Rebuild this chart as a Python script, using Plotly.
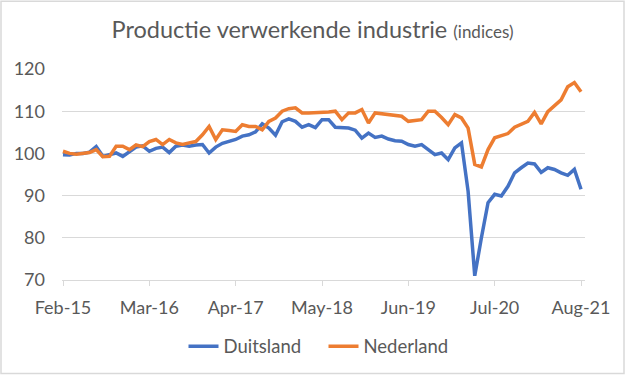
import plotly.graph_objects as go

# ---- data (monthly, Feb-15 .. Aug-21) ----
tick_labels = ["Feb-15", "Mar-16", "Apr-17", "May-18", "Jun-19", "Jul-20", "Aug-21"]
tick_index = [0, 13, 26, 39, 52, 65, 78]

duitsland = [
    99.7, 99.6, 100.0, 100.0, 100.3, 101.6, 99.3, 99.8, 100.1, 99.3,
    100.5, 101.5, 101.8, 100.5, 101.2, 101.5, 100.2, 101.7, 102.0, 101.7,
    102.0, 102.1, 100.1, 101.5, 102.4, 102.8, 103.3, 104.1, 104.4, 105.1,
    107.0, 106.0, 104.3, 107.5, 108.2, 107.6, 106.2, 106.8, 106.1, 108.0,
    108.0, 106.2, 106.0, 106.0, 105.5, 103.6, 104.8, 103.8, 104.1, 103.4,
    103.0, 102.9, 102.1, 101.7, 102.1, 100.9, 99.7, 100.1, 98.5, 101.3,
    102.5, 91.0, 71.0, 80.0, 88.3, 90.3, 89.9, 92.2, 95.4, 96.6,
    97.7, 97.5, 95.5, 96.6, 96.2, 95.4, 94.8, 96.2, 91.5,
]

nederland = [
    100.5, 100.0, 99.8, 100.0, 100.2, 100.9, 99.2, 99.3, 101.7, 101.7,
    100.9, 102.0, 101.6, 102.8, 103.3, 102.1, 103.3, 102.5, 102.1, 102.5,
    102.8, 104.4, 106.4, 103.3, 105.6, 105.4, 105.2, 106.8, 106.4, 106.4,
    105.6, 107.6, 108.4, 110.0, 110.6, 110.8, 109.6, 109.6, 109.6, 109.8,
    109.8, 110.0, 108.0, 109.6, 109.6, 110.4, 107.2, 109.6, 109.4, 109.2,
    109.2, 108.8, 107.6, 107.8, 108.0, 110.0, 110.0, 108.5, 106.8, 109.2,
    108.4, 106.0, 97.4, 96.8, 100.9, 103.7, 104.2, 104.7, 106.2, 106.8,
    107.6, 109.7, 107.0, 109.9, 111.3, 112.7, 115.8, 116.8, 114.6,
]

y_ticks = [70, 80, 90, 100, 110, 120]

assert len(duitsland) == 79 and len(nederland) == 79
months = list(range(len(duitsland)))

FONT = "Lato"
TXT = "#595959"
GRID = "#D9D9D9"

fig = go.Figure()
fig.add_trace(go.Scatter(x=months, y=duitsland, mode="lines", name="Duitsland",
                         line=dict(color="#4472C4", width=3.5)))
fig.add_trace(go.Scatter(x=months, y=nederland, mode="lines", name="Nederland",
                         line=dict(color="#ED7D31", width=3.5)))

W, H = 625, 376
ml, mr, mt, mb = 62, 40, 69, 95
pw, ph = W - ml - mr, H - mt - mb

fig.update_layout(
    width=W, height=H,
    margin=dict(l=ml, r=mr, t=mt, b=mb, pad=0),
    paper_bgcolor="white", plot_bgcolor="white",
    font=dict(family=FONT, color=TXT, size=18),
    title=dict(
        text="Productie verwerkende industrie <span style='font-size:17px'>(indices)</span>",
        x=0.5, xref="container", xanchor="center",
        y=1 - 30 / H, yref="container", yanchor="middle",
        font=dict(family=FONT, size=23.5, color=TXT),
    ),
    showlegend=True,
    legend=dict(orientation="h", x=0.5, xanchor="center", y=-0.31, yanchor="middle",
                font=dict(family=FONT, size=18.5, color=TXT),
                itemwidth=30, entrywidth=95, entrywidthmode="pixels",
                tracegroupgap=0),
    xaxis=dict(
        range=[-0.15, 78.6],
        tickmode="array", tickvals=tick_index, ticktext=tick_labels,
        showgrid=False, zeroline=False,
        showline=True, linecolor=GRID, linewidth=1,
        ticks="outside", ticklen=5, tickcolor=GRID,
        tickfont=dict(family=FONT, size=18, color=TXT),
        ticklabelstandoff=6,
    ),
    yaxis=dict(
        range=[70, 120],
        tickmode="array", tickvals=y_ticks,
        showgrid=True, gridcolor=GRID, gridwidth=1,
        zeroline=False, showline=False, ticks="",
        tickfont=dict(family=FONT, size=18, color=TXT),
        ticklabelstandoff=16,
    ),
    shapes=[dict(
        type="rect", xref="paper", yref="paper",
        x0=-(ml - 1) / pw, x1=1 + (mr - 1) / pw,
        y0=-(mb - 1) / ph, y1=1 + (mt - 1) / ph,
        line=dict(color=GRID, width=1.5), layer="below",
    )],
)

fig.write_html("out.html",
               config={"displayModeBar": False},
               post_script="document.body.style.margin='0';document.body.style.padding='0';")
